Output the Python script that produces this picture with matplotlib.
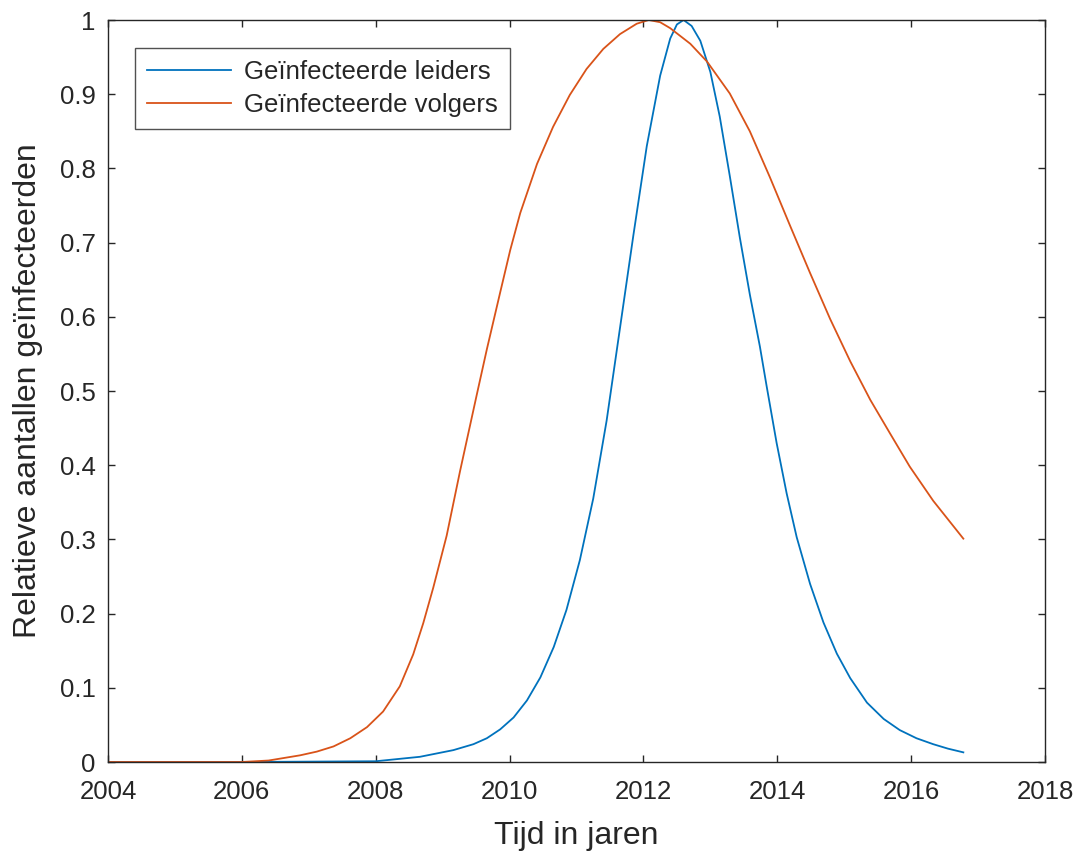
import matplotlib
matplotlib.use("Agg")
import matplotlib.pyplot as plt

# ---- data ----
leiders_jaar = [2004, 2006, 2008, 2008.66, 2009.16, 2009.46, 2009.66, 2009.86, 2010.06,
                2010.26, 2010.46, 2010.66, 2010.85, 2011.05, 2011.25, 2011.45, 2011.65,
                2011.85, 2012.05, 2012.25, 2012.40, 2012.50, 2012.60, 2012.72, 2012.85,
                2013.00, 2013.14, 2013.29, 2013.44, 2013.59, 2013.74, 2013.84, 2013.99,
                2014.14, 2014.29, 2014.49, 2014.69, 2014.89, 2015.09, 2015.34, 2015.59,
                2015.83, 2016.08, 2016.33, 2016.55, 2016.78]
leiders = [0, 0, 0.001, 0.007, 0.016, 0.024, 0.032, 0.044, 0.060,
           0.083, 0.114, 0.155, 0.205, 0.272, 0.355, 0.460, 0.585,
           0.710, 0.830, 0.925, 0.975, 0.994, 1.0, 0.992, 0.972,
           0.930, 0.870, 0.790, 0.707, 0.630, 0.560, 0.507, 0.430,
           0.362, 0.303, 0.240, 0.188, 0.146, 0.113, 0.080, 0.058,
           0.043, 0.032, 0.024, 0.018, 0.013]

volgers_jaar = [2004, 2005, 2006, 2006.4, 2006.87, 2007.12, 2007.37, 2007.62, 2007.87,
                2008.11, 2008.36, 2008.56, 2008.71, 2008.86, 2009.06, 2009.26, 2009.51,
                2009.66, 2009.86, 2010.01, 2010.16, 2010.41, 2010.65, 2010.90, 2011.15,
                2011.40, 2011.65, 2011.90, 2012.08, 2012.25, 2012.40, 2012.70, 2012.95,
                2013.29, 2013.59, 2013.89, 2014.19, 2014.49, 2014.79, 2015.09, 2015.39,
                2015.69, 2015.98, 2016.33, 2016.78]
volgers = [0, 0, 0, 0.002, 0.009, 0.014, 0.021, 0.032, 0.047,
           0.068, 0.102, 0.145, 0.187, 0.235, 0.305, 0.392, 0.495,
           0.556, 0.633, 0.690, 0.740, 0.806, 0.856, 0.899, 0.934,
           0.961, 0.981, 0.995, 1.0, 0.997, 0.989, 0.968, 0.944,
           0.901, 0.850, 0.788, 0.723, 0.659, 0.597, 0.540, 0.488,
           0.442, 0.398, 0.352, 0.301]

labels = ["Geïnfecteerde leiders", "Geïnfecteerde volgers"]
xticks = [2004, 2006, 2008, 2010, 2012, 2014, 2016, 2018]
yticks = [0, 0.1, 0.2, 0.3, 0.4, 0.5, 0.6, 0.7, 0.8, 0.9, 1]
ytick_labels = ["0", "0.1", "0.2", "0.3", "0.4", "0.5", "0.6", "0.7", "0.8", "0.9", "1"]

# ---- style ----
plt.rcParams['font.family'] = ['Liberation Sans', 'DejaVu Sans']
txt = '#262626'

fig = plt.figure(figsize=(10.83, 8.55), dpi=100)
ax = fig.add_axes([108/1083, 1 - 762/855, 937/1083, 742/855])

ax.plot(leiders_jaar, leiders, color='#0072BD', lw=1.3, label=labels[0])
ax.plot(volgers_jaar, volgers, color='#D95319', lw=1.3, label=labels[1])

ax.set_xlim(2004, 2018)
ax.set_ylim(0, 1)
ax.set_xticks(xticks)
ax.set_xticklabels([str(t) for t in xticks])
ax.set_yticks(yticks)
ax.set_yticklabels(ytick_labels)
ax.tick_params(direction='in', top=True, right=True, length=5, width=1,
               labelsize=18.5, colors=txt)
ax.tick_params(axis='x', pad=13)
ax.tick_params(axis='y', pad=9)
for s in ax.spines.values():
    s.set_color(txt)
    s.set_linewidth(1)

ax.set_xlabel("Tijd in jaren", fontsize=23, color=txt, labelpad=12)
ax.set_ylabel("Relatieve aantallen geïnfecteerden", fontsize=23, color=txt, labelpad=12)

leg = ax.legend(loc='upper left', bbox_to_anchor=((135-108)/937, (762-48)/742),
                borderaxespad=0, fontsize=18.5, frameon=True, fancybox=False,
                edgecolor=txt, handlelength=3.3, handletextpad=0.5,
                borderpad=0.45, labelspacing=0.38)
leg.get_frame().set_linewidth(1)
for t in leg.get_texts():
    t.set_color(txt)

fig.savefig("out.png", dpi=100)
